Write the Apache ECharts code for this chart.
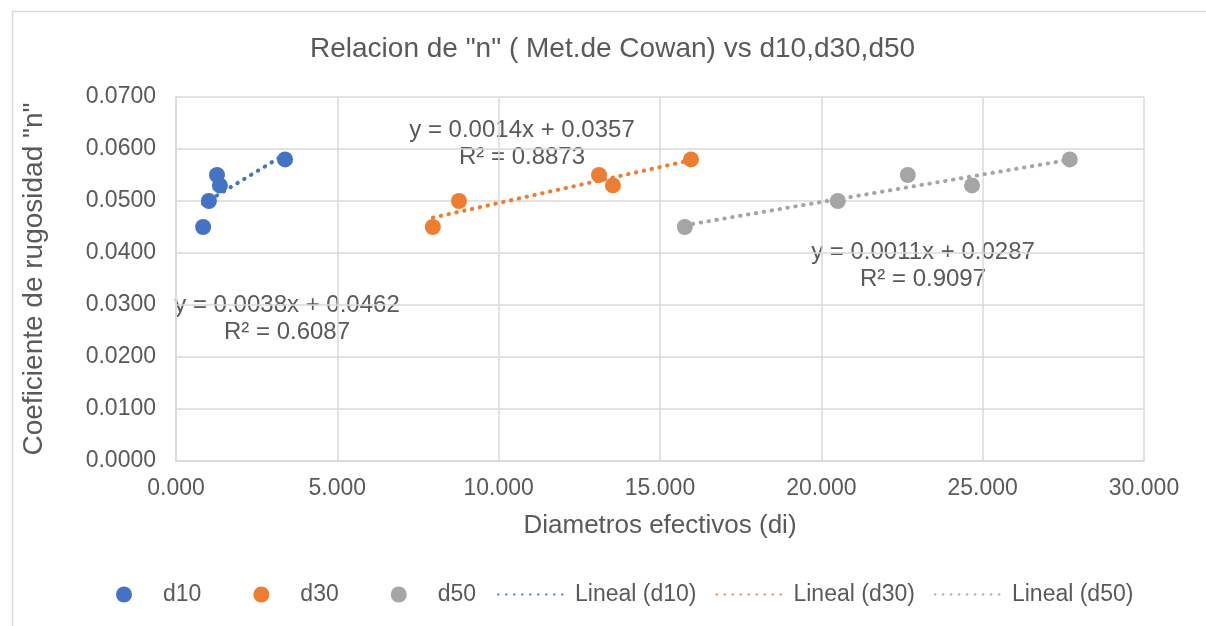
<!DOCTYPE html>
<html>
<head>
<meta charset="utf-8">
<script src="https://cdn.jsdelivr.net/npm/echarts@6/dist/echarts.min.js"></script>
<style>
  html, body { margin: 0; padding: 0; background: #fff; }
  #chart { width: 1206px; height: 626px; }
</style>
</head>
<body>
<div id="chart"></div>
<script>
const seriesNames = ['d10', 'd30', 'd50']
const trendNames = ['Lineal (d10)', 'Lineal (d30)', 'Lineal (d50)']
const colors = ['#4472C4', '#ED7D31', '#A5A5A5']

const nValues = [0.045, 0.050, 0.055, 0.053, 0.058]
const d10 = [0.84, 1.02, 1.27, 1.36, 3.38]
const d30 = [7.96, 8.77, 13.11, 13.54, 15.96]
const d50 = [15.77, 20.51, 22.68, 24.67, 27.70]

const trendLabels = [
  'y = 0.0038x + 0.0462\nR² = 0.6087',
  'y = 0.0014x + 0.0357\nR² = 0.8873',
  'y = 0.0011x + 0.0287\nR² = 0.9097'
]

const textColor = '#595959'
const gridColor = '#D9D9D9'
const font = 'Liberation Sans, Arial, sans-serif'

// recta de minimos cuadrados (como la linea de tendencia de Excel)
const trend = (xs, ys) => {
  const n = xs.length
  const mx = xs.reduce((a, b) => a + b, 0) / n
  const my = ys.reduce((a, b) => a + b, 0) / n
  let sxy = 0
  let sxx = 0
  for (let i = 0; i < n; i++) {
    sxy += (xs[i] - mx) * (ys[i] - my)
    sxx += (xs[i] - mx) * (xs[i] - mx)
  }
  const m = sxy / sxx
  const b = my - m * mx
  const x0 = Math.min(...xs)
  const x1 = Math.max(...xs)
  return [[x0, m * x0 + b], [x1, m * x1 + b]]
}

const groups = [d10, d30, d50]

let series = []
groups.forEach((xs, i) => {
  series.push({
    name: trendNames[i],
    type: 'line',
    data: trend(xs, nValues),
    symbol: 'none',
    silent: true,
    z: 1,
    lineStyle: { color: colors[i], width: 4, type: [0.5, 7.5], cap: 'round' },
    itemStyle: { color: colors[i] }
  })
})
groups.forEach((xs, i) => {
  series.push({
    name: seriesNames[i],
    type: 'scatter',
    symbol: 'circle',
    symbolSize: 16,
    z: 3,
    itemStyle: { color: colors[i], opacity: 1 },
    data: xs.map((x, j) => [x, nValues[j]])
  })
})

const chart = echarts.init(document.getElementById('chart'))
let option = {
  animation: false,
  backgroundColor: '#fff',
  textStyle: { fontFamily: font },
  title: {
    text: 'Relacion de "n" ( Met.de Cowan) vs d10,d30,d50',
    left: 305,
    top: 30,
    textStyle: { color: textColor, fontSize: 28, fontWeight: 'normal', fontFamily: font }
  },
  grid: { left: 176, right: 62, top: 97, bottom: 165 },
  xAxis: {
    type: 'value',
    min: 0,
    max: 30,
    interval: 5,
    name: 'Diametros efectivos (di)',
    nameLocation: 'middle',
    nameGap: 52,
    nameTextStyle: { color: textColor, fontSize: 26, fontFamily: font },
    axisLine: { show: true, lineStyle: { color: gridColor, width: 1.5 } },
    axisTick: { show: false },
    axisLabel: { color: textColor, fontSize: 23, margin: 16, formatter: v => v.toFixed(3) },
    splitLine: { show: true, lineStyle: { color: gridColor, width: 1.5 } }
  },
  yAxis: {
    type: 'value',
    min: 0,
    max: 0.07,
    interval: 0.01,
    name: 'Coeficiente de rugosidad "n"',
    nameLocation: 'middle',
    nameGap: 128,
    nameTextStyle: { color: textColor, fontSize: 28, fontFamily: font },
    axisLine: { show: true, lineStyle: { color: gridColor, width: 1.5 } },
    axisTick: { show: false },
    axisLabel: { color: textColor, fontSize: 23, margin: 20, formatter: v => v.toFixed(4) },
    splitLine: { show: true, lineStyle: { color: gridColor, width: 1.5 } }
  },
  legend: [
    {
      data: seriesNames.map(name => ({ name: name, icon: 'circle' })),
      left: 111,
      top: 578,
      itemWidth: 16,
      itemHeight: 16,
      itemGap: 52,
      textStyle: { color: textColor, fontSize: 23, fontFamily: font, padding: [0, 0, 0, 26] }
    },
    {
      data: trendNames.map(name => ({ name: name, itemStyle: { opacity: 0 } })),
      left: 492,
      top: 578,
      itemWidth: 72,
      itemHeight: 16,
      itemGap: 19,
      textStyle: { color: textColor, fontSize: 23, fontFamily: font }
    }
  ],
  graphic: [
    {
      type: 'rect',
      left: 10,
      top: 9,
      silent: true,
      shape: { width: 1300, height: 700 },
      style: { fill: 'none', stroke: gridColor, lineWidth: 1.5 }
    },
    {
      type: 'text',
      x: 287,
      y: 292,
      style: { text: trendLabels[0], align: 'center', fill: textColor, fontSize: 24, fontFamily: font, lineHeight: 27 }
    },
    {
      type: 'text',
      x: 522,
      y: 117,
      style: { text: trendLabels[1], align: 'center', fill: textColor, fontSize: 24, fontFamily: font, lineHeight: 27 }
    },
    {
      type: 'text',
      x: 923,
      y: 239,
      style: { text: trendLabels[2], align: 'center', fill: textColor, fontSize: 24, fontFamily: font, lineHeight: 27 }
    }
  ],
  series: series
}
chart.setOption(option)
</script>
</body>
</html>
